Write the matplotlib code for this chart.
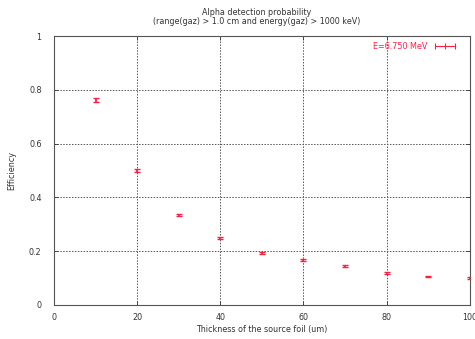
import matplotlib.pyplot as plt
from matplotlib.lines import Line2D

thickness = [10, 20, 30, 40, 50, 60, 70, 80, 90, 100]
efficiency = [0.762, 0.500, 0.335, 0.249, 0.193, 0.167, 0.144, 0.119, 0.106, 0.100]
errors = [0.009, 0.007, 0.005, 0.004, 0.003, 0.003, 0.003, 0.003, 0.003, 0.003]

x_ticks = [0, 20, 40, 60, 80, 100]
y_ticks = [0, 0.2, 0.4, 0.6, 0.8, 1]
y_tick_labels = ["0", "0.2", "0.4", "0.6", "0.8", "1"]

red = "#ff2040"
fs = 5.8

fig = plt.figure(figsize=(4.75, 3.39), dpi=100)
ax = fig.add_axes([0.1137, 0.1003, 0.8753, 0.7935])
ax.set_axisbelow(True)

ax.errorbar(thickness, efficiency, yerr=errors, fmt="none", ecolor=red,
            elinewidth=1.3, capsize=2, capthick=1.0, zorder=3)

ax.set_xlim(0, 100)
ax.set_ylim(0, 1)
ax.set_xticks(x_ticks)
ax.set_yticks(y_ticks)
ax.set_yticklabels(y_tick_labels)
ax.tick_params(direction="in", length=3, width=0.6, labelsize=fs, colors="#333333",
               top=True, right=True, pad=6)
ax.tick_params(axis="y", pad=9)
ax.grid(True, color="#555555", linestyle=(0, (1.5, 1.5)), linewidth=0.7, zorder=0)
for s in ax.spines.values():
    s.set_color("#555555")
    s.set_linewidth(0.8)

ax.set_xlabel("Thickness of the source foil (um)", fontsize=fs, color="#333333", labelpad=2)
ax.set_ylabel("Efficiency", fontsize=fs, color="#333333", labelpad=9)
fig.text(0.54, 0.955, "Alpha detection probability", ha="center", fontsize=fs, color="#333333")
fig.text(0.54, 0.928, "(range(gaz) > 1.0 cm and energy(gaz) > 1000 keV)", ha="center",
         fontsize=fs, color="#333333")

handle = Line2D([], [], color=red, linewidth=0.8, marker="|", markersize=4,
                markeredgewidth=0.8)
leg = ax.legend([handle], ["E=6.750 MeV"], loc="upper right", fontsize=fs, frameon=False,
                markerfirst=False, handlelength=3.2, handletextpad=0.6, numpoints=3,
                borderaxespad=0.3, bbox_to_anchor=(0.985, 1.0))
for t in leg.get_texts():
    t.set_color(red)

fig.savefig("out.png", dpi=100)
